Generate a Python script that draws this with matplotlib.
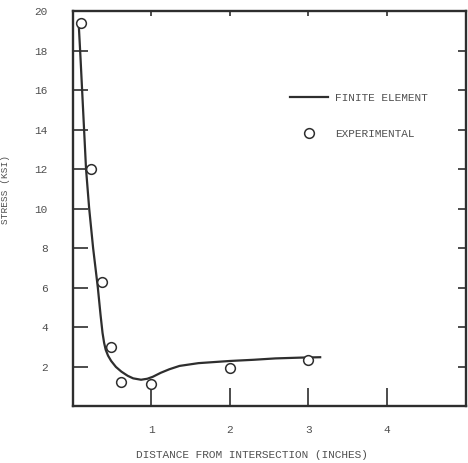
import matplotlib
matplotlib.use("Agg")
import matplotlib.pyplot as plt

# finite element curve
fe_x = [0.076, 0.10, 0.12, 0.145, 0.17, 0.21, 0.26, 0.32, 0.355, 0.38, 0.40,
        0.42, 0.45, 0.49, 0.55, 0.62, 0.70, 0.77, 0.87, 0.95, 1.02, 1.12,
        1.23, 1.36, 1.6, 2.0, 2.3, 2.58, 2.9, 3.15]
fe_y = [19.4, 17.6, 16.0, 14.0, 12.0, 10.0, 8.0, 6.0, 4.6, 3.7, 3.2,
        2.85, 2.55, 2.28, 1.98, 1.74, 1.53, 1.40, 1.33, 1.38, 1.48, 1.68,
        1.86, 2.03, 2.17, 2.28, 2.34, 2.41, 2.45, 2.47]

# experimental points
exp_x = [0.11, 0.23, 0.37, 0.49, 0.62, 1.0, 2.0, 3.0]
exp_y = [19.4, 12.0, 6.3, 3.0, 1.23, 1.1, 1.94, 2.33]

x_ticks = [1, 2, 3, 4]
y_ticks = [2, 4, 6, 8, 10, 12, 14, 16, 18, 20]

ink = "#2e2e2e"
txt = "#505050"
font = "Liberation Mono"

fig = plt.figure(figsize=(4.68, 4.63), dpi=100)
ax = fig.add_axes([0.1553, 0.1231, 0.8394, 0.8531])

ax.plot(fe_x, fe_y, color=ink, lw=1.6, label="FINITE ELEMENT")
ax.plot(exp_x, exp_y, ls="none", marker="o", ms=7, mfc="white", mec=ink,
        mew=1.1, label="EXPERIMENTAL")

ax.set_xlim(0, 5)
ax.set_ylim(0, 20)

for s in ax.spines.values():
    s.set_color(ink)
    s.set_linewidth(1.7)

ax.set_xticks(x_ticks)
ax.set_xticklabels([str(v) for v in x_ticks], family=font, fontsize=8, color=txt)
ax.set_yticks(y_ticks)
ax.set_yticklabels([str(v) for v in y_ticks], family=font, fontsize=8, color=txt)
ax.tick_params(axis="x", direction="in", length=13, width=1.2, color=ink, pad=14)
ax.tick_params(axis="y", direction="in", length=11, width=1.2, color=ink, pad=18)

top = ax.secondary_xaxis("top")
top.set_xticks(x_ticks)
top.set_xticklabels([])
top.tick_params(direction="in", length=3.6, width=1.2, color=ink)
top.spines["top"].set_visible(False)

right = ax.secondary_yaxis("right")
right.set_yticks(y_ticks[:-1])
right.set_yticklabels([])
right.tick_params(direction="in", length=5.8, width=1.2, color=ink)
right.spines["right"].set_visible(False)

ax.set_xlabel("DISTANCE FROM INTERSECTION (INCHES)", family=font, fontsize=8, color=txt)
ax.xaxis.set_label_coords(0.456, -0.112)
ax.set_ylabel("STRESS (KSI)", family=font, fontsize=6.8, color=txt)
ax.yaxis.set_label_coords(-0.16, 0.547)

ax.legend(loc="upper left", bbox_to_anchor=(0.553, 0.792), frameon=False,
          prop={"family": font, "size": 8}, handlelength=3.4, handletextpad=0.7,
          labelspacing=2.3, borderpad=0, borderaxespad=0, labelcolor=txt)

fig.savefig("out.png", dpi=100)
